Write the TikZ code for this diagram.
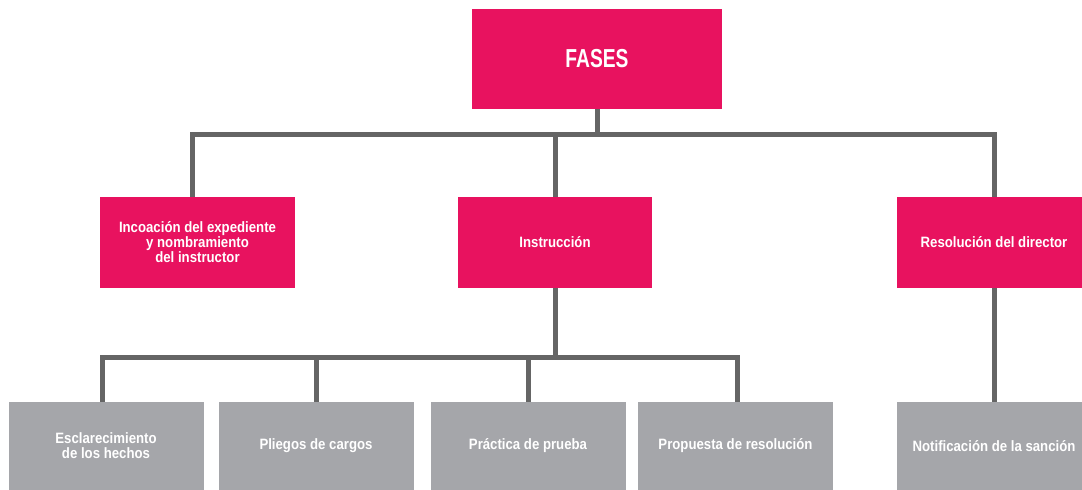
\documentclass[tikz,border=0pt]{standalone}
\usepackage{fontspec}
\setmainfont{Liberation Sans}[FakeStretch=0.88]
\newfontfamily\fasesfont{Liberation Sans}[FakeStretch=0.74]
\definecolor{pinkbox}{HTML}{E8125F}
\definecolor{greybox}{HTML}{A5A6AA}
\definecolor{linegrey}{HTML}{656565}
\begin{document}
\begin{tikzpicture}[x=1pt,y=-1pt,
  pinkstyle/.style={fill=pinkbox,draw=none,text=white,font=\bfseries\fontsize{15}{15}\selectfont,align=center,inner sep=0pt},
  greystyle/.style={fill=greybox,draw=none,text=white,font=\bfseries\fontsize{15}{15}\selectfont,align=center,inner sep=0pt,minimum width=195pt,minimum height=88pt},
  conn/.style={draw=linegrey,line width=5pt,line join=miter}]
\useasboundingbox (0,0) rectangle (1082,490);
\node[pinkstyle,minimum width=250pt,minimum height=100pt,font=\fasesfont\bfseries\fontsize{26}{28}\selectfont] (fases) at (597,59) {FASES};
\node[pinkstyle,minimum width=195pt,minimum height=91pt] (n1) at (197.5,242.5) {Incoación del expediente\\y nombramiento\\del instructor};
\node[pinkstyle,minimum width=194pt,minimum height=91pt] (n2) at (555,242.5) {Instrucción};
\node[pinkstyle,minimum width=194pt,minimum height=91pt] (n3) at (994,242.5) {Resolución del director};
\node[greystyle] (a) at (106,446) {Esclarecimiento\\de los hechos};
\node[greystyle] (b) at (316,446) {Pliegos de cargos};
\node[greystyle] (c) at (528,446) {Práctica de prueba};
\node[greystyle] (d) at (735.5,446) {Propuesta de resolución};
\node[greystyle] (e) at (994,446) {Notificación de la sanción};
\coordinate (h1) at (597,134.5);
\coordinate (h2) at (556,357);
\draw[conn] (fases.south) -- (fases.south |- h1);
\draw[conn] ([xshift=-5.5pt]n1.north) -- ([xshift=-5.5pt]n1.north |- h1) -- (n3.north |- h1) -- (n3.north);
\draw[conn] (n2.north |- h1) -- (n2.north);
\draw[conn] (n2.south) -- (n2.south |- h2);
\draw[conn] ([xshift=-4pt]a.north) -- ([xshift=-4pt]a.north |- h2) -- ([xshift=1.5pt]d.north |- h2) -- ([xshift=1.5pt]d.north);
\draw[conn] (b.north |- h2) -- (b.north);
\draw[conn] (c.north |- h2) -- (c.north);
\draw[conn] (n3.south) -- (e.north);
\end{tikzpicture}
\end{document}
